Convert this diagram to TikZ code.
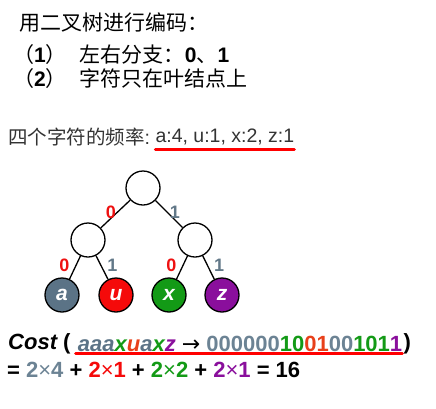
\documentclass[tikz,border=0pt]{standalone}
\usepackage{fontspec}
\setmainfont{Liberation Sans}
\newfontfamily\cjk{Noto Sans CJK SC}
\newfontfamily\arrowfont{DejaVu Sans}
\usetikzlibrary{positioning}

\definecolor{slate}{HTML}{5B7386}
\definecolor{slatetext}{HTML}{6C8394}
\definecolor{leafred}{HTML}{F50A0A}
\definecolor{leafgreen}{HTML}{139A16}
\definecolor{leafpurple}{HTML}{8A0F9C}
\definecolor{orangered}{HTML}{E8401A}
\definecolor{zero}{HTML}{EE1111}
\definecolor{one}{HTML}{627888}
\definecolor{freqgray}{HTML}{333333}

\newcommand{\bnum}[1]{{\normalfont\bfseries #1}}

\tikzstyle{innervertex}=[circle,draw,fill=white,minimum size=34pt,inner sep=0pt,line width=1.3pt]
\tikzstyle{leafvertex}=[circle,draw,minimum size=34pt,inner sep=0pt,line width=1.3pt,text=white,font=\fontsize{21}{21}\selectfont\bfseries\itshape]
\tikzstyle{edge} = [draw,line width=1.3pt]
\tikzstyle{bitlabel} = [font=\fontsize{18}{18}\selectfont\bfseries]
\tikzstyle{cntext} = [anchor=west,inner sep=0pt,font=\fontsize{21}{21}\selectfont\cjk]
\tikzstyle{bigtext} = [anchor=west,inner sep=0pt,font=\fontsize{22}{22}\selectfont\bfseries]
\tikzstyle{underline} = [draw=red,line width=3pt,line cap=round]

\begin{document}
\begin{tikzpicture}[x=1pt,y=-1pt]
    \useasboundingbox (0,0) rectangle (436,408);

    % heading
    \node[cntext] (title) at (19,23) {用二叉树进行编码：};
    \node[cntext] (rule1) at (13,55) {（\bnum{1}）\hspace{13pt}左右分支：\bnum{0}、\bnum{1}};
    \node[cntext] (rule2) at (13,79) {（\bnum{2}）\hspace{13pt}字符只在叶结点上};

    % frequencies
    \node[anchor=west,inner sep=0pt,text=freqgray,font=\fontsize{19.5}{19.5}\selectfont] (freqlabel) at (8,137) {{\cjk 四个字符的频率}:};
    \node[anchor=west,inner sep=0pt,text=freqgray,font=\fontsize{19.5}{19.5}\selectfont,right=5pt of freqlabel] (freq) {a:4, u:1, x:2, z:1};
    \path[underline] ([yshift=-4pt]freq.south west) -- ([yshift=-4pt]freq.south east);

    % tree
     \foreach \x/\y/\name in {143/188/root, 88/240/left, 195/240/right}
        \node[innervertex] (\name) at (\x,\y) {};

     \foreach \x/\y/\name/\col in {62/295/a/slate, 116/295/u/leafred, 169/295/x/leafgreen, 222/295/z/leafpurple}
        \node[leafvertex, fill=\col] (\name) at (\x,\y) {\name};

    \foreach \source/ \dest /\lbl/\side/\col/\sep/\where in {root/left/0/left/zero/1/0.43, root/right/1/right/one/2/0.43,
                                                         left/a/0/left/zero/6/0.4, left/u/1/right/one/6/0.4,
                                                         right/x/0/left/zero/6/0.4, right/z/1/right/one/6/0.4}
        \path[edge] (\source) -- node[bitlabel, \side, text=\col, inner sep=\sep pt, pos=\where] {\lbl} (\dest);

    % cost
    \node[bigtext] (cost) at (8,344) {\itshape Cost \upshape(};
    \node[bigtext, right=7pt of cost] (code) {{\itshape\color{slate}aaa\color{leafgreen}x\color{orangered}u\color{slate}a\color{leafgreen}x\color{leafpurple}z} {\arrowfont\mdseries →} {\color{slatetext}000000\color{leafgreen}10\color{orangered}01\color{slatetext}00\color{leafgreen}101\color{leafpurple}1}};
    \node[bigtext, right=1pt of code] (rpar) {)};
    \path[underline] ([yshift=-2pt,xshift=-2pt]code.south west) -- ([yshift=-2pt]code.south east);

    \node[bigtext] (sum) at (7,370) {= {\color{slatetext}2{\mdseries×}4} + {\color{leafred}2{\mdseries×}1} + {\color{leafgreen}2{\mdseries×}2} + {\color{leafpurple}2{\mdseries×}1} = 16};

\end{tikzpicture}
\end{document}
